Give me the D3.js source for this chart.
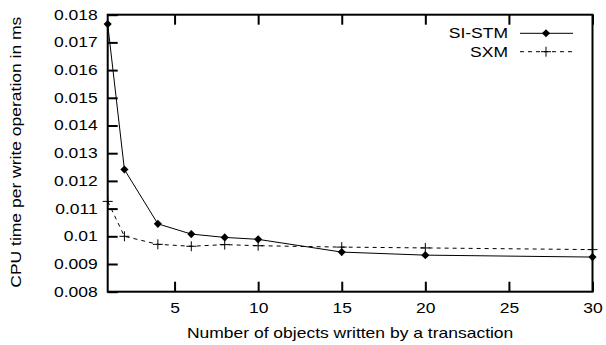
<!DOCTYPE html>
<html>
<head>
<meta charset="utf-8">
<script src="https://cdn.jsdelivr.net/npm/d3@7"></script>
<style>
  body { margin: 0; background: #fff; }
  svg text { font-family: "Liberation Sans", Arial, Helvetica, sans-serif; font-size: 14px; fill: #000; }
</style>
</head>
<body>
<div id="chart"></div>
<script>
const objects = [1, 2, 4, 6, 8, 10, 15, 20, 30];
const siStm = [0.01766, 0.01241, 0.01045, 0.01008, 0.00996, 0.00989, 0.00943, 0.00932, 0.00925];
const sxm = [0.01126, 0.01000, 0.00971, 0.00964, 0.00970, 0.00966, 0.00961, 0.00958, 0.00952];
const xTicks = [5, 10, 15, 20, 25, 30];
const yTicks = [0.008, 0.009, 0.010, 0.011, 0.012, 0.013, 0.014, 0.015, 0.016, 0.017, 0.018];
const yTickLabels = ["0.008", "0.009", "0.01", "0.011", "0.012", "0.013", "0.014", "0.015", "0.016", "0.017", "0.018"];

const width = 606, height = 345;
const margin = { top: 14.7, right: 13.5, bottom: 53.3, left: 107.7 };
const stretch = 1.25; // gnuplot's wide glyphs

const svg = d3.select("#chart")
    .append("svg")
    .attr("width", width)
    .attr("height", height);

const x = d3.scaleLinear()
    .domain([1, 30])
    .range([margin.left, width - margin.right]);
const y = d3.scaleLinear()
    .domain([0.008, 0.018])
    .range([height - margin.bottom, margin.top]);

// --- Axes (ticks point inward) ---
const yAxis = svg.append("g")
    .attr("transform", `translate(${margin.left},0)`)
    .call(d3.axisLeft(y)
        .tickValues(yTicks)
        .tickSize(-10)
        .tickPadding(10)
        .tickFormat((d, i) => yTickLabels[i]));

const xAxis = svg.append("g")
    .attr("transform", `translate(0,${height - margin.bottom})`)
    .call(d3.axisBottom(x)
        .tickValues(xTicks)
        .tickSize(-10)
        .tickPadding(11));

const xTop = svg.append("g")
    .attr("transform", `translate(0,${margin.top})`)
    .call(d3.axisTop(x)
        .tickValues(xTicks)
        .tickSize(-10)
        .tickFormat(""));

[yAxis, xAxis, xTop].forEach(g => {
    g.select(".domain").remove();
    g.selectAll(".tick line").attr("stroke", "#000").attr("stroke-width", 2);
    g.selectAll(".tick text")
        .attr("font-size", null)
        .attr("font-family", null)
        .each(function() {
            const t = d3.select(this);
            const tx = +t.attr("x") || 0;
            t.attr("x", tx / stretch).attr("transform", `scale(${stretch},1)`);
        });
});

svg.append("rect")
    .attr("x", margin.left)
    .attr("y", margin.top)
    .attr("width", width - margin.left - margin.right)
    .attr("height", height - margin.top - margin.bottom)
    .attr("fill", "none")
    .attr("stroke", "#000")
    .attr("stroke-width", 2);

// --- Axis titles ---
function label(px, py, txt, anchor, rot = 0) {
    svg.append("text")
        .attr("transform", `translate(${px},${py}) rotate(${rot}) scale(${stretch},1)`)
        .attr("text-anchor", anchor)
        .text(txt);
}
label((margin.left + width - margin.right) / 2, 338.3, "Number of objects written by a transaction", "middle");
label(21, (margin.top + height - margin.bottom) / 2 - 1, "CPU time per write operation in ms", "middle", -90);

// --- Series ---
const line = d3.line()
    .x(d => x(d[0]))
    .y(d => y(d[1]));

const siData = objects.map((o, i) => [o, siStm[i]]);
const sxData = objects.map((o, i) => [o, sxm[i]]);

svg.append("path")
    .datum(sxData)
    .attr("d", line)
    .attr("fill", "none")
    .attr("stroke", "#000")
    .attr("stroke-width", 1)
    .attr("stroke-dasharray", "4,4");

svg.append("path")
    .datum(siData)
    .attr("d", line)
    .attr("fill", "none")
    .attr("stroke", "#000")
    .attr("stroke-width", 1);

const diamond = d3.symbol().type(d3.symbolDiamond2).size(42);
const plus = "M-5,0H5M0,-5V5";

svg.append("g")
    .selectAll("path")
    .data(sxData)
    .join("path")
    .attr("transform", d => `translate(${x(d[0])},${y(d[1])})`)
    .attr("d", plus)
    .attr("stroke", "#000")
    .attr("stroke-width", 1);

svg.append("g")
    .selectAll("path")
    .data(siData)
    .join("path")
    .attr("transform", d => `translate(${x(d[0])},${y(d[1])})`)
    .attr("d", diamond)
    .attr("fill", "#000");

// --- Legend ---
const legend = svg.append("g");
const legendItems = [
    { name: "SI-STM", y: 33.3, dash: null, mark: "diamond" },
    { name: "SXM", y: 51.7, dash: "4,4", mark: "plus" }
];
legendItems.forEach(it => {
    legend.append("text")
        .attr("transform", `translate(508,${it.y + 5}) scale(${stretch},1)`)
        .attr("text-anchor", "end")
        .text(it.name);
    legend.append("line")
        .attr("x1", 520).attr("x2", 573)
        .attr("y1", it.y).attr("y2", it.y)
        .attr("stroke", "#000")
        .attr("stroke-width", 1)
        .attr("stroke-dasharray", it.dash);
    if (it.mark === "diamond") {
        legend.append("path")
            .attr("transform", `translate(546,${it.y})`)
            .attr("d", diamond)
            .attr("fill", "#000");
    } else {
        legend.append("path")
            .attr("transform", `translate(546,${it.y})`)
            .attr("d", plus)
            .attr("stroke", "#000");
    }
});
</script>
</body>
</html>
